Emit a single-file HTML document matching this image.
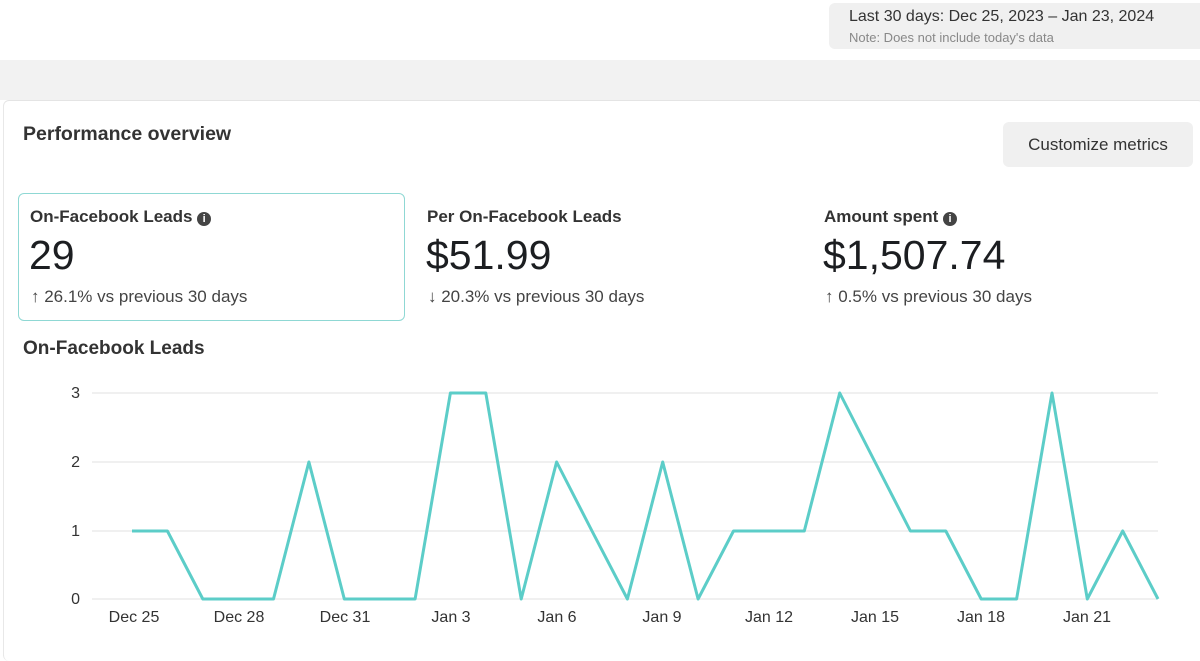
<!DOCTYPE html>
<html><head><style>
body{margin:0;width:1200px;height:648px;background:#fff;font-family:"Liberation Sans",sans-serif;position:relative;overflow:hidden;color:#1c1e21}
.abs{position:absolute}
.i{display:inline-block;width:14px;height:14px;border-radius:50%;background:#444;color:#fff;font-size:11px;line-height:14px;text-align:center;vertical-align:0px}
</style></head><body>
<div class="abs" style="left:829px;top:3px;width:380px;height:46px;background:#f0f0f0;border-radius:6px"></div>
<div class="abs" style="left:849px;top:8px;font-size:16px;color:#333">Last 30 days: Dec 25, 2023 – Jan 23, 2024</div>
<div class="abs" style="left:849px;top:30px;font-size:13px;color:#888">Note: Does not include today's data</div>
<div class="abs" style="left:0;top:60px;width:1200px;height:40px;background:#f2f2f2"></div>
<div class="abs" style="left:3px;top:100px;width:1200px;height:560px;background:#fff;border-top:1px solid #e4e4e4;border-left:1px solid #e8e8e8;border-radius:6px"></div>
<div class="abs" style="left:23px;top:123px;font-size:19.5px;font-weight:bold;color:#333">Performance overview</div>
<div class="abs" style="left:1003px;top:122px;width:190px;height:45px;background:#f0f0f0;border-radius:6px;font-size:17px;line-height:45px;text-align:center;color:#333">Customize metrics</div>
<div class="abs" style="left:18px;top:193px;width:387px;height:128px;border:1.5px solid #8fd8d4;border-radius:6px;box-sizing:border-box"></div>
<div class="abs" style="left:30px;top:207px;font-size:17px;font-weight:bold;color:#333">On-Facebook Leads <span class="i">i</span></div>
<div class="abs" style="left:29px;top:232px;font-size:41px;color:#1c1e21">29</div>
<div class="abs" style="left:31px;top:287px;font-size:17px;color:#444">↑ 26.1% vs previous 30 days</div>
<div class="abs" style="left:427px;top:207px;font-size:17px;font-weight:bold;color:#333">Per On-Facebook Leads</div>
<div class="abs" style="left:426px;top:232px;font-size:41px">$51.99</div>
<div class="abs" style="left:428px;top:287px;font-size:17px;color:#444">↓ 20.3% vs previous 30 days</div>
<div class="abs" style="left:824px;top:207px;font-size:17px;font-weight:bold;color:#333">Amount spent <span class="i">i</span></div>
<div class="abs" style="left:823px;top:232px;font-size:41px">$1,507.74</div>
<div class="abs" style="left:825px;top:287px;font-size:17px;color:#444">↑ 0.5% vs previous 30 days</div>
<div class="abs" style="left:23px;top:338px;font-size:19px;font-weight:bold;color:#333">On-Facebook Leads</div>
<svg class="abs" style="left:0;top:0" width="1200" height="648">
<g stroke="#e2e2e2" stroke-width="1">
<line x1="92" x2="1158" y1="393" y2="393"/><line x1="92" x2="1158" y1="462" y2="462"/><line x1="92" x2="1158" y1="531" y2="531"/><line x1="92" x2="1158" y1="599" y2="599"/>
</g>
<g font-size="16" fill="#333" text-anchor="end" font-family="Liberation Sans">
<text x="80" y="398">3</text><text x="80" y="467">2</text><text x="80" y="536">1</text><text x="80" y="604">0</text>
</g>
<g font-size="16" fill="#333" text-anchor="middle" font-family="Liberation Sans">
<text x="134" y="622">Dec 25</text><text x="239" y="622">Dec 28</text><text x="345" y="622">Dec 31</text><text x="451" y="622">Jan 3</text><text x="557" y="622">Jan 6</text><text x="662" y="622">Jan 9</text><text x="769" y="622">Jan 12</text><text x="875" y="622">Jan 15</text><text x="981" y="622">Jan 18</text><text x="1087" y="622">Jan 21</text>
</g>
<polyline fill="none" stroke="#5ccdc8" stroke-width="3" stroke-linejoin="round" points="132,531 167.4,531 202.8,599 238.1,599 273.5,599 308.9,462 344.3,599 379.7,599 415.1,599 450.4,393 485.8,393 521.2,599 556.6,462 592,531 627.4,599 662.7,462 698.1,599 733.5,531 768.9,531 804.3,531 839.7,393 875,462 910.4,531 945.8,531 981.2,599 1016.6,599 1052,393 1087.3,599 1122.7,531 1158,599"/>
</svg>
</body></html>
